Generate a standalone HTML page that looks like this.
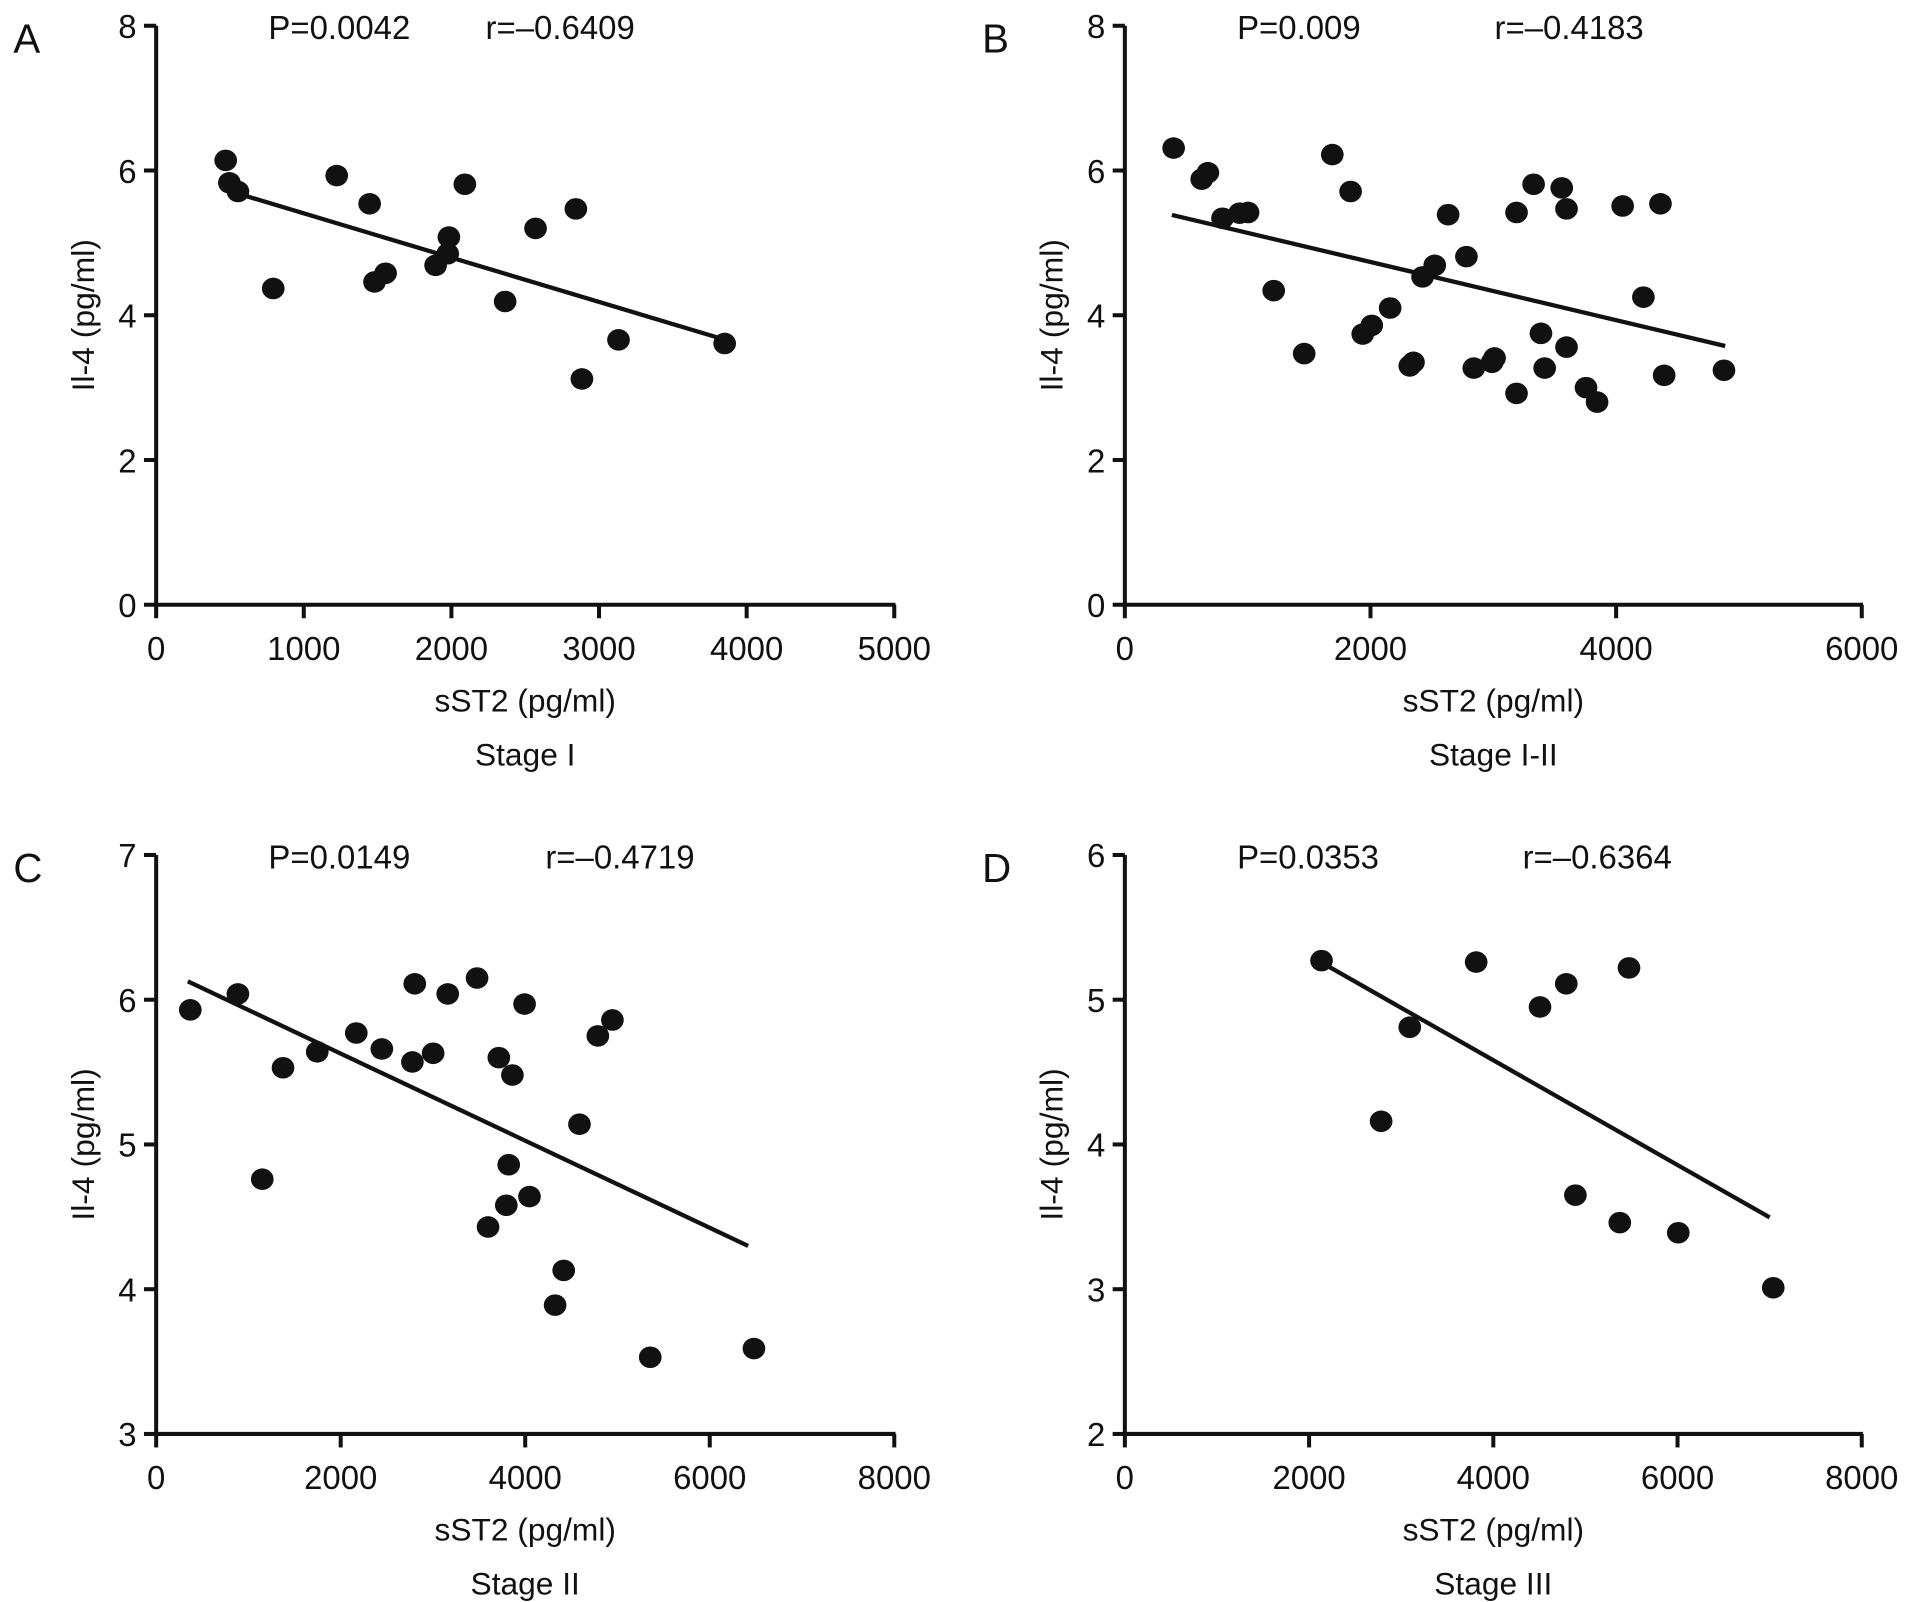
<!DOCTYPE html>
<html><head><meta charset="utf-8"><style>
html,body{margin:0;padding:0;background:#fff;}
svg{display:block;}
text{font-family:"Liberation Sans",Arial,sans-serif;fill:#111;}
</style></head><body>
<svg id="fig" width="1913" height="1602" viewBox="0 0 1568 1306" preserveAspectRatio="none" xmlns="http://www.w3.org/2000/svg"></svg>
<script>
// Panel A data (Stage I)
const aX = [471,496,554,793,1223,1446,1479,1554,1893,1983,1975,2091,2364,2570,2843,2884,3132,3851];
const aY = [6.14,5.83,5.71,4.37,5.93,5.54,4.46,4.58,4.69,5.08,4.85,5.81,4.19,5.20,5.47,3.12,3.66,3.61];
const aFit = [6.02,-0.000612,471,3851];
// Panel B data (Stage I-II)
const bX = [397,626,676,795,934,1003,1212,1460,1689,1838,1937,2010,2160,2320,2350,2424,2523,2632,2781,2841,2990,3010,3189,3189,3328,3388,3418,3557,3596,3596,3755,3845,4053,4222,4361,4391,4878];
const bY = [6.31,5.88,5.97,5.34,5.41,5.42,4.34,3.47,6.22,5.71,3.74,3.86,4.10,3.30,3.35,4.53,4.69,5.39,4.81,3.27,3.35,3.41,2.92,5.42,5.81,3.75,3.27,5.76,5.47,3.56,3.00,2.80,5.51,4.25,5.54,3.17,3.24];
const bFit = [5.54,-0.000402,383,4888];
// Panel C data (Stage II)
const cX = [370,886,1150,1375,1746,2169,2446,2777,2803,3002,3160,3478,3714,3597,3861,3821,3795,3993,4046,4324,4417,4588,4787,4945,5355,6479];
const cY = [5.93,6.04,4.76,5.53,5.64,5.77,5.66,5.57,6.11,5.63,6.04,6.15,5.60,4.43,5.48,4.86,4.58,5.97,4.64,3.89,4.13,5.14,5.75,5.86,3.53,3.59];
const cFit = [6.23,-0.000301,343,6416];
// Panel D data (Stage III)
const dX = [2135,3093,2782,3814,4507,4792,5473,4891,5373,6008,7039];
const dY = [5.27,4.81,4.16,5.26,4.95,5.11,5.22,3.65,3.46,3.39,3.01];
const dFit = [6.03,-0.000362,2135,7000];
// Axis tick labels
const aXTicks = [0,1000,2000,3000,4000,5000];
const bXTicks = [0,2000,4000,6000];
const cdXTicks = [0,2000,4000,6000,8000];
const abYTicks = [0,2,4,6,8];
const cYTicks = [3,4,5,6,7];
const dYTicks = [2,3,4,5,6];

const NS = "http://www.w3.org/2000/svg";
const svg = document.getElementById('fig');
function mk(tag, attrs, parent, txt){
  const e = document.createElementNS(NS, tag);
  for (const k in attrs) e.setAttribute(k, attrs[k]);
  if (txt !== undefined) e.textContent = txt;
  (parent||svg).appendChild(e);
  return e;
}
function panel(p){
  const g = mk('g', {});
  
  
  const xmin = p.xt[0], xmax = p.xt[p.xt.length-1];
  const ymin = p.yt[0], ymax = p.yt[p.yt.length-1];
  const sx = v => p.x0 + (v - xmin) / (xmax - xmin) * (p.x1 - p.x0);
  const sy = v => p.y0 - (v - ymin) / (ymax - ymin) * (p.y0 - p.y1);
  const lt = mk('text', {x:p.lx, y:p.y1+22, 'font-size':33}, g, p.id);
  
  
  const ax = mk('line', {x1:p.x0, y1:p.y0, x2:p.x1+1, y2:p.y0, stroke:'#111', 'stroke-width':3.3}, g);
  
  
  const ay = mk('line', {x1:p.x0, y1:p.y0+1, x2:p.x0, y2:p.y1, stroke:'#111', 'stroke-width':3.3}, g);
  
  
  p.xt.forEach(v => {
    const x = sx(v);
    mk('line', {x1:x, y1:p.y0, x2:x, y2:p.y0+11, stroke:'#111', 'stroke-width':3.3}, g);
    const t = mk('text', {x:x, y:p.y0+45, 'font-size':27, 'text-anchor':'middle'}, g, String(v));
    
    
  });
  p.yt.forEach(v => {
    const y = sy(v);
    mk('line', {x1:p.x0-10, y1:y, x2:p.x0, y2:y, stroke:'#111', 'stroke-width':3.3}, g);
    const t = mk('text', {x:p.x0-16, y:y+10, 'font-size':27, 'text-anchor':'end'}, g, String(v));
    
    
  });
  const yl = mk('text', {x:0, y:0, 'font-size':26, 'text-anchor':'middle', transform:'translate(' + (p.x0-51) + ',' + ((p.y0+p.y1)/2) + ') rotate(-90)'}, g, 'Il-4 (pg/ml)');
  
  
  const xc = (p.x0 + p.x1)/2;
  const xl = mk('text', {x:xc, y:p.y0+87, 'font-size':26, 'text-anchor':'middle'}, g, 'sST2 (pg/ml)');
  
  
  const st = mk('text', {x:xc, y:p.y0+131, 'font-size':26, 'text-anchor':'middle'}, g, p.stage);
  
  
  const pt = mk('text', {x:p.x0+92, y:p.y1+11, 'font-size':27}, g, p.pv);
  
  
  const rt = mk('text', {x:p.rx, y:p.y1+11, 'font-size':27}, g, p.rv);
  
  
  const f = p.fit;
  const fl = mk('line', {x1:sx(f[2]), y1:sy(f[0]+f[1]*f[2]), x2:sx(f[3]), y2:sy(f[0]+f[1]*f[3]), stroke:'#111', 'stroke-width':3.5}, g);
  
  
  p.xs.forEach((v, i) => {
    const c = mk('ellipse', {cx:sx(v), cy:sy(p.ys[i]), rx:9.3, ry:8.8, fill:'#111'}, g);
    
    
  });
}
panel({id:'A', lx:11, x0:128, x1:733, y0:493, y1:21, xt:aXTicks, yt:abYTicks, xs:aX, ys:aY, fit:aFit, stage:'Stage I', pv:'P=0.0042', rv:'r=\u20130.6409', rx:398});
panel({id:'B', lx:805, x0:922, x1:1526, y0:493, y1:21, xt:bXTicks, yt:abYTicks, xs:bX, ys:bY, fit:bFit, stage:'Stage I-II', pv:'P=0.009', rv:'r=\u20130.4183', rx:1225});
panel({id:'C', lx:11, x0:128, x1:733, y0:1169, y1:697, xt:cdXTicks, yt:cYTicks, xs:cX, ys:cY, fit:cFit, stage:'Stage II', pv:'P=0.0149', rv:'r=\u20130.4719', rx:447});
panel({id:'D', lx:805, x0:922, x1:1526, y0:1169, y1:697, xt:cdXTicks, yt:dYTicks, xs:dX, ys:dY, fit:dFit, stage:'Stage III', pv:'P=0.0353', rv:'r=\u20130.6364', rx:1248});
</script>
</body></html>
